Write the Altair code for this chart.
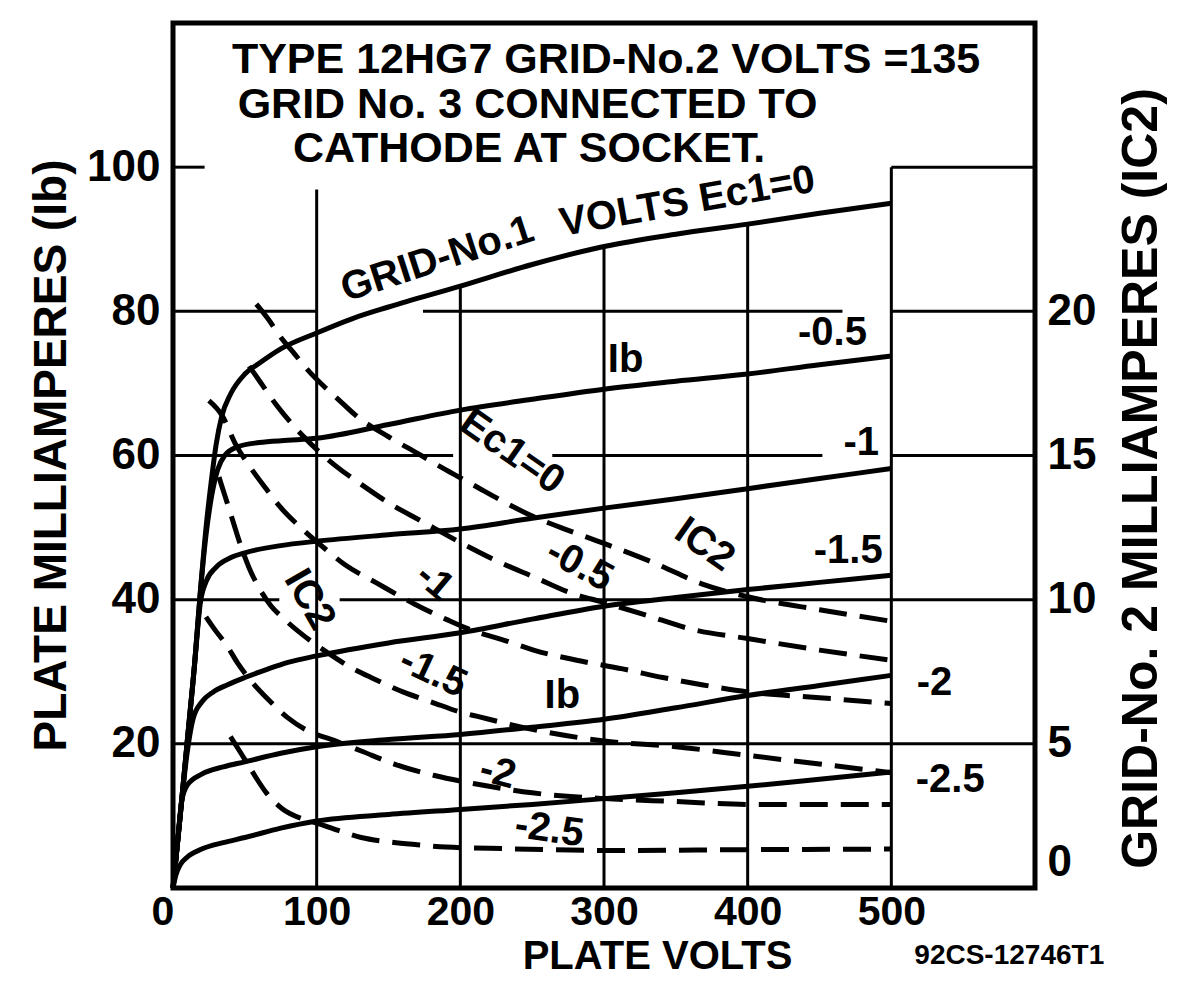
import altair as alt
import pandas as pd

FONT = "Liberation Sans"

# ---------------- axis values ----------------
x_tick_values = [0, 100, 200, 300, 400, 500]
y_left_values = [20, 40, 60, 80, 100]
y_right_values = [0, 5, 10, 15, 20]

# ---------------- plate current Ib (mA) curves, solid ----------------
ib0_v = [0, 5, 10, 15, 19, 23, 27, 30, 34, 40, 50, 60, 75, 100, 125, 150, 200, 250, 300, 350, 400, 450, 500]
ib0_ma = [0, 10, 20.5, 31, 41, 50, 57, 61.5, 65.5, 68.5, 71.3, 72.8, 74.8, 77, 79, 80.6, 83.5, 86.5, 89, 90.7, 92.1, 93.6, 95]

ib05_v = [0, 5, 10, 15, 19, 23, 27, 31, 36, 45, 60, 80, 100, 150, 200, 250, 300, 350, 400, 450, 500]
ib05_ma = [0, 10, 20.5, 31, 41, 49, 54.5, 58, 60, 61.2, 61.8, 62.1, 62.4, 64.3, 66.3, 67.8, 69.2, 70.3, 71.3, 72.6, 73.8]

ib1_v = [0, 5, 10, 15, 19, 23, 30, 40, 50, 75, 100, 150, 200, 250, 300, 350, 400, 450, 500]
ib1_ma = [0, 10, 20.5, 31, 39.5, 42.5, 44.5, 45.8, 46.5, 47.5, 48.1, 49, 49.8, 51.3, 52.7, 54, 55.4, 56.8, 58.2]

ib15_v = [0, 5, 10, 14, 20, 28, 38, 50, 65, 80, 100, 150, 200, 250, 300, 350, 400, 450, 500]
ib15_ma = [0, 10, 19, 23.5, 25.8, 27.2, 28.2, 29.2, 30.3, 31.3, 32.2, 34, 35.4, 37.3, 39.1, 40.3, 41.4, 42.4, 43.4]

ib2_v = [0, 3, 6, 10, 20, 35, 50, 75, 100, 150, 200, 250, 300, 350, 400, 450, 500]
ib2_ma = [0, 6, 12, 14.3, 15.8, 16.8, 17.5, 18.7, 19.6, 20.6, 21.3, 22.3, 23.4, 25, 26.7, 28.1, 29.5]

ib25_v = [0, 2, 5, 10, 20, 35, 50, 75, 100, 150, 200, 250, 300, 350, 400, 450, 500]
ib25_ma = [0, 1.8, 3.2, 4.3, 5.4, 6.3, 7, 8.3, 9.3, 10.2, 10.9, 11.6, 12.4, 13.2, 14.1, 15.1, 16.1]

# ---------------- screen-grid current IC2 (mA) curves, dashed ----------------
ic0_v = [58, 66, 75, 85, 95, 105, 115, 127, 150, 170, 190, 210, 230, 250, 270, 300, 336, 368, 400, 450, 500]
ic0_ma = [20.25, 19.75, 19.1, 18.5, 17.9, 17.4, 16.95, 16.4, 15.65, 15.08, 14.5, 13.95, 13.4, 12.9, 12.5, 11.95, 11.25, 10.55, 10.1, 9.65, 9.25]

ic05_v = [53, 60, 72, 90, 113, 131, 152, 172, 207, 225, 253, 276, 300, 327, 363, 400, 450, 500]
ic05_ma = [18.1, 17.6, 16.75, 15.7, 14.65, 14.0, 13.3, 12.75, 11.8, 11.35, 10.75, 10.25, 9.9, 9.5, 8.95, 8.65, 8.25, 7.9]

ic1_v = [25, 34, 44, 53, 64, 74, 90, 105, 120, 141, 168, 191, 210, 230, 251, 281, 313, 341, 368, 400, 450, 500]
ic1_ma = [16.9, 16.4, 15.35, 14.65, 13.9, 13.25, 12.45, 11.8, 11.2, 10.6, 9.85, 9.3, 8.9, 8.6, 8.25, 7.9, 7.6, 7.3, 7.05, 6.8, 6.6, 6.4]

ic15_v = [32, 40, 48, 53, 60, 68, 78, 95, 108, 122, 140, 160, 180, 200, 212, 250, 300, 350, 400, 450, 500]
ic15_ma = [14.25, 13.0, 11.75, 11.1, 10.4, 9.8, 9.3, 8.6, 8.15, 7.7, 7.25, 6.8, 6.45, 6.1, 5.95, 5.5, 5.1, 4.9, 4.6, 4.3, 4.0]

ic2_v = [23, 30, 37, 45, 54, 67, 80, 92, 113, 131, 154, 182, 212, 250, 300, 350, 400, 450, 500]
ic2_ma = [9.4, 8.9, 8.45, 7.8, 7.2, 6.5, 5.9, 5.5, 5.1, 4.75, 4.3, 3.9, 3.6, 3.3, 3.1, 3.0, 2.9, 2.9, 2.9]

ic25_v = [40, 47, 55, 65, 76, 90, 100, 115, 131, 150, 170, 190, 220, 260, 300, 400, 500]
ic25_ma = [5.25, 4.7, 4.05, 3.3, 2.75, 2.4, 2.25, 2.0, 1.75, 1.6, 1.5, 1.42, 1.38, 1.33, 1.3, 1.33, 1.35]

solid_series = [("0", ib0_v, ib0_ma), ("-0.5", ib05_v, ib05_ma), ("-1", ib1_v, ib1_ma),
                ("-1.5", ib15_v, ib15_ma), ("-2", ib2_v, ib2_ma), ("-2.5", ib25_v, ib25_ma)]
dashed_series = [("0", ic0_v, ic0_ma), ("-0.5", ic05_v, ic05_ma), ("-1", ic1_v, ic1_ma),
                 ("-1.5", ic15_v, ic15_ma), ("-2", ic2_v, ic2_ma), ("-2.5", ic25_v, ic25_ma)]


def long_df(series):
    rows = []
    for name, vs, ms in series:
        for i, (v, m) in enumerate(zip(vs, ms)):
            rows.append({"ec1": name, "i": i, "v": v, "ma": m})
    return pd.DataFrame(rows)


solid_df = long_df(solid_series)
dashed_df = long_df(dashed_series)

# ---------------- grid segments ----------------
h_grid_y = [20, 40, 40, 60, 60, 60, 80, 80, 80, 100, 100]
h_grid_x1 = [0, 0, 116, 0, 264, 500, 0, 174, 500, 500, 0]
h_grid_x2 = [600, 74, 600, 195, 452, 600, 100, 466, 600, 600, 22]
v_grid_x = [100, 200, 300, 400, 500]
v_grid_top = [96.9, 83.5, 89, 92.1, 100]

h_df = pd.DataFrame({"y": h_grid_y, "x1": h_grid_x1, "x2": h_grid_x2})
v_df = pd.DataFrame({"x": v_grid_x, "y1": [0] * len(v_grid_x), "y2": v_grid_top})

# ---------------- annotations ----------------
title_text = ["TYPE 12HG7 GRID-No.2 VOLTS =135", "GRID No. 3 CONNECTED TO", "CATHODE AT SOCKET.",
              "92CS-12746T1"]
title_v = [41, 45, 83.5, 516]
title_ma = [114.8, 108.6, 102.5, -9.4]
title_size = [43, 43, 43, 28]

ann_text = ["GRID-No.1", "VOLTS Ec1=0", "Ib", "Ib", "-0.5", "-1", "-1.5", "-2", "-2.5",
            "Ec1=0", "IC2", "-0.5", "-1", "-1.5", "-2", "-2.5", "IC2"]
ann_v = [184, 358, 315, 271, 459, 479, 470, 530, 541,
         236, 370, 283, 182, 181, 226, 262, 95]
ann_ma = [87.2, 95.2, 73.3, 26.6, 77, 61.8, 46.8, 28.5, 15,
          60.5, 47.6, 44.8, 42.5, 29.9, 16, 8.1, 40]
ann_angle = [342, 350, 0, 0, 0, 0, 0, 0, 0,
             35, 35, 28, 40, 25, 15, 8, 60]

title_df = pd.DataFrame({"t": title_text, "v": title_v, "ma": title_ma, "s": title_size})
ann_df = pd.DataFrame({"t": ann_text, "v": ann_v, "ma": ann_ma, "a": ann_angle})

# ---------------- scales / axes ----------------
xs = alt.Scale(domain=[0, 600], nice=False, zero=False)
ys = alt.Scale(domain=[0, 120], nice=False, zero=False)
ys2 = alt.Scale(domain=[0, 30], nice=False, zero=False)

x_axis = alt.Axis(values=x_tick_values, title="PLATE VOLTS", grid=False, ticks=False, domain=False,
                  labelFont=FONT, labelFontSize=41, labelFontWeight="bold", labelColor="black",
                  labelBaseline="middle", labelPadding=24,
                  labelOffset={"condition": {"test": "datum.value == 0", "value": -22}, "value": 0},
                  titleFont=FONT, titleFontSize=40, titleFontWeight="bold", titleColor="black",
                  titleX=484, titleY=68, titleAlign="center", titleBaseline="middle")
y_axis = alt.Axis(values=y_left_values, title="PLATE MILLIAMPERES (Ib)", grid=False, ticks=False,
                  domain=False, labelFont=FONT, labelFontSize=44, labelFontWeight="bold",
                  labelColor="black", labelPadding=13,
                  titleFont=FONT, titleFontSize=46, titleFontWeight="bold", titleColor="black",
                  titleAngle=270, titleX=-122, titleY=432, titleAlign="center", titleBaseline="middle")
y2_axis = alt.Axis(values=y_right_values, orient="right", title="GRID-No. 2 MILLIAMPERES (IC2)",
                   grid=False, ticks=False, domain=False, labelFont=FONT, labelFontSize=44,
                   labelFontWeight="bold", labelColor="black", labelPadding=12,
                   labelOffset={"condition": {"test": "datum.value == 0", "value": -26}, "value": 0},
                   titleFont=FONT, titleFontSize=50, titleFontWeight="bold", titleColor="black",
                   titleAngle=270, titleX=106, titleY=455, titleAlign="center", titleBaseline="middle")

hgrid = alt.Chart(h_df).mark_rule(color="black", strokeWidth=3).encode(
    x=alt.X("x1:Q", scale=xs, axis=None), x2="x2:Q", y=alt.Y("y:Q", scale=ys, axis=None))
vgrid = alt.Chart(v_df).mark_rule(color="black", strokeWidth=3).encode(
    x=alt.X("x:Q", scale=xs, axis=None), y=alt.Y("y1:Q", scale=ys, axis=None), y2="y2:Q")

solid = alt.Chart(solid_df).mark_line(color="black", strokeWidth=5, interpolate="monotone").encode(
    x=alt.X("v:Q", scale=xs, axis=x_axis),
    y=alt.Y("ma:Q", scale=ys, axis=y_axis),
    detail="ec1:N", order="i:Q")

dashed = alt.Chart(dashed_df).mark_line(color="black", strokeWidth=5, strokeDash=[28, 13],
                                        interpolate="monotone").encode(
    x=alt.X("v:Q", scale=xs, axis=None),
    y=alt.Y("ma:Q", scale=ys2, axis=y2_axis),
    detail="ec1:N", order="i:Q")

titles = alt.Chart(title_df).mark_text(align="left", baseline="middle", font=FONT,
                                       fontWeight="bold", color="black").encode(
    x=alt.X("v:Q", scale=xs, axis=None), y=alt.Y("ma:Q", scale=ys, axis=None),
    text="t:N", size=alt.Size("s:Q", scale=None, legend=None))

anns = alt.Chart(ann_df).mark_text(align="center", baseline="middle", font=FONT, fontSize=40,
                                   fontWeight="bold", color="black").encode(
    x=alt.X("v:Q", scale=xs, axis=None), y=alt.Y("ma:Q", scale=ys, axis=None),
    text="t:N", angle=alt.Angle("a:Q", scale=None))

chart = alt.layer(hgrid, vgrid, solid, titles, anns, dashed).resolve_scale(
    y="independent").resolve_axis(x="independent", y="independent").properties(
    width=862, height=865,
    autosize=alt.AutoSizeParams(type="none"),
    padding={"left": 165, "top": 15, "right": 136, "bottom": 88},
    background="white",
).configure_view(stroke="black", strokeWidth=5)

chart.save("out.html", embed_options={"renderer": "svg", "actions": False})
